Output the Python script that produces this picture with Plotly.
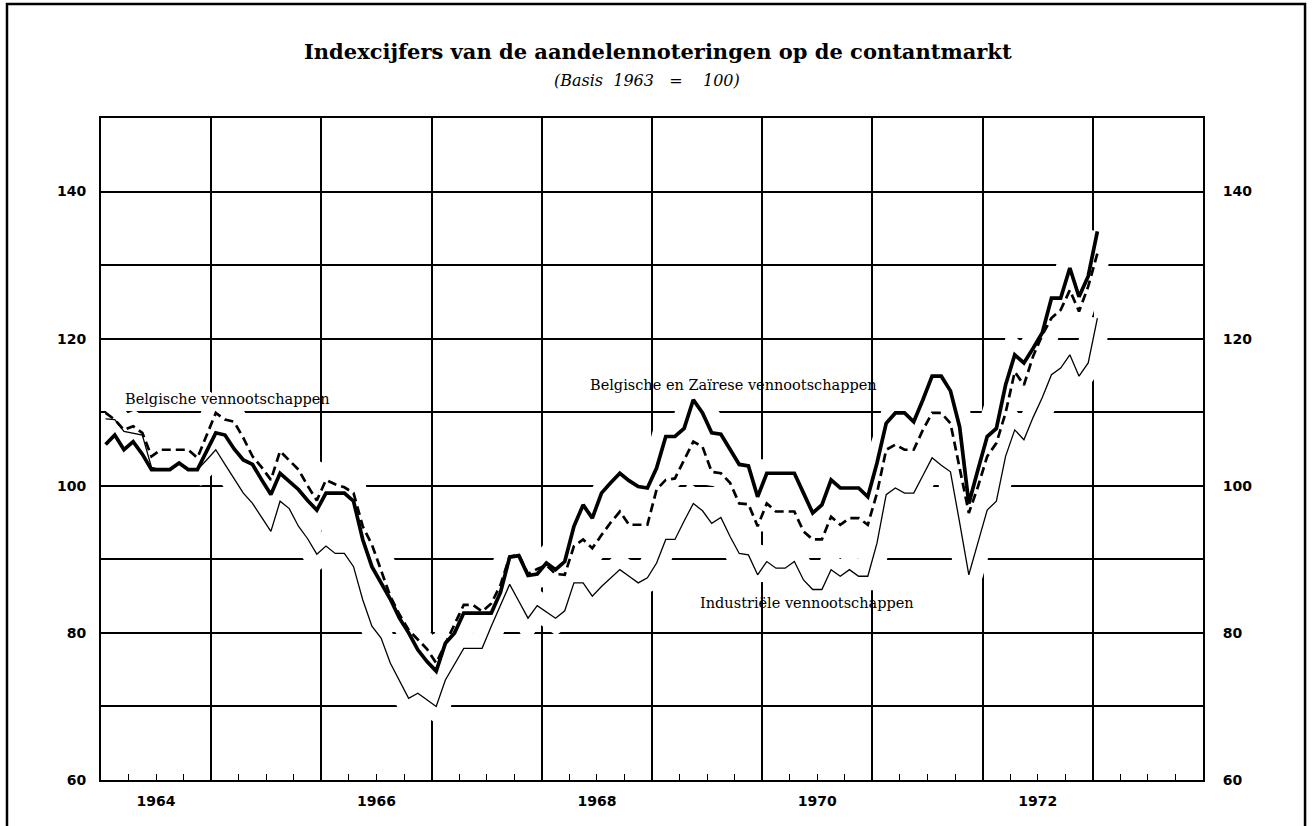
import plotly.graph_objects as go

# Monthly stock price indices on the spot market, January 1964 - January 1973 (1963 = 100)
start_year = 1964

belg_zaire = [
    105.6, 106.9, 104.9, 106.0, 104.3, 102.2, 102.2, 102.2, 103.1, 102.2, 102.2, 104.6,
    107.2, 106.9, 105.0, 103.5, 102.9, 100.8, 98.8, 101.7, 100.6, 99.5, 98.0, 96.7,
    99.0, 99.0, 99.0, 97.9, 92.7, 89.0, 86.8, 84.6, 82.0, 80.0, 77.7, 76.1,
    74.8, 78.6, 80.0, 82.7, 82.7, 82.7, 82.7, 85.5, 90.3, 90.5, 87.8, 88.0,
    89.5, 88.6, 89.7, 94.5, 97.4, 95.6, 99.0, 100.4, 101.7, 100.7, 99.9, 99.7,
    102.4, 106.7, 106.7, 107.8, 111.7, 109.9, 107.2, 107.0, 105.0, 102.9, 102.7, 98.5,
    101.7, 101.7, 101.7, 101.7, 99.0, 96.3, 97.4, 100.8, 99.7, 99.7, 99.7, 98.5,
    103.1, 108.5, 109.9, 109.9, 108.7, 111.7, 114.9, 114.9, 112.9, 108.0, 97.6, 102.2,
    106.7, 107.8, 113.7, 117.8, 116.7, 118.7, 120.8, 125.5, 125.5, 129.6, 125.7, 128.5,
    134.6,
]

belg = [
    109.9, 109.0, 107.6, 108.1, 107.2, 104.0, 104.9, 104.9, 104.9, 104.9, 103.8, 106.8,
    109.9, 109.0, 108.7, 106.5, 104.0, 102.5, 100.8, 104.7, 103.5, 102.2, 100.0, 98.0,
    100.8, 100.2, 99.8, 99.0, 94.5, 92.0, 88.5, 85.0, 82.5, 80.4, 79.1, 77.8,
    75.9, 78.6, 81.2, 83.8, 83.8, 82.9, 84.0, 86.5, 90.4, 90.6, 88.0, 88.7,
    89.2, 88.0, 87.9, 91.8, 92.7, 91.5, 93.3, 95.0, 96.5, 94.7, 94.7, 94.7,
    99.5, 100.8, 101.0, 103.5, 106.0, 105.3, 101.9, 101.7, 100.4, 97.6, 97.5, 94.5,
    97.6, 96.5, 96.5, 96.5, 93.8, 92.7, 92.7, 95.8, 94.7, 95.6, 95.6, 94.7,
    99.0, 104.9, 105.6, 104.9, 104.9, 107.6, 109.9, 109.9, 108.5, 102.2, 96.3, 99.9,
    104.0, 105.8, 109.9, 115.5, 113.7, 117.6, 120.5, 122.8, 123.9, 126.6, 123.7, 127.1,
    131.6,
]

industrie = [
    109.1, 109.0, 107.4, 107.1, 106.9, 102.5, 102.2, 102.2, 103.1, 102.2, 102.2, 103.5,
    104.9, 102.9, 101.0, 99.0, 97.6, 95.7, 93.8, 97.9, 96.9, 94.5, 92.8, 90.7,
    91.8, 90.8, 90.8, 89.0, 84.5, 80.9, 79.3, 75.9, 73.5, 71.1, 71.8, 70.9,
    70.0, 73.6, 75.8, 77.9, 77.9, 77.9, 80.9, 83.7, 86.6, 84.3, 82.0, 83.7,
    82.8, 82.0, 83.0, 86.8, 86.8, 85.0, 86.3, 87.5, 88.6, 87.7, 86.8, 87.5,
    89.5, 92.7, 92.7, 95.2, 97.6, 96.6, 94.9, 95.7, 93.1, 90.8, 90.6, 87.9,
    89.7, 88.8, 88.8, 89.7, 87.2, 85.9, 85.9, 88.6, 87.7, 88.6, 87.7, 87.7,
    92.2, 98.8, 99.7, 99.0, 99.0, 101.4, 103.8, 102.8, 101.9, 95.0, 87.9, 92.3,
    96.7, 97.9, 104.0, 107.6, 106.25, 109.3, 112.0, 115.1, 116.0, 117.8, 114.9, 116.7,
    122.8,
]

year_labels = ["1964", "1966", "1968", "1970", "1972"]
y_ticks = [60, 80, 100, 120, 140]

# each monthly value sits at the middle of its month on a fractional-year axis
months = [start_year + (i + 0.5) / 12 for i in range(len(belg))]

INK = "black"
LABEL_FONT = dict(family="DejaVu Serif", size=14.5, color=INK)
TICK_FONT = dict(family="DejaVu Sans", size=14, color=INK, weight="bold")

fig = go.Figure()

series = [
    (belg_zaire, dict(color=INK, width=3.7)),
    (belg, dict(color=INK, width=2.7, dash="9px,5px")),
    (industrie, dict(color=INK, width=1.3)),
]

# white bands beneath the curves interrupt the grid where the lines pass
for values, _ in series:
    fig.add_trace(go.Scatter(x=months, y=values, mode="lines",
                             line=dict(color="white", width=28),
                             hoverinfo="skip", showlegend=False))
for values, style in series:
    fig.add_trace(go.Scatter(x=months, y=values, mode="lines", line=style,
                             showlegend=False))

fig.update_layout(
    width=1312, height=826,
    margin=dict(l=101, r=109, t=118, b=46),
    paper_bgcolor="white", plot_bgcolor="white",
    xaxis=dict(
        range=[1964, 1974], tickmode="linear", tick0=1964, dtick=1,
        showgrid=True, gridcolor=INK, gridwidth=1.5,
        showticklabels=False, ticks="", zeroline=False,
        showline=True, linecolor=INK, linewidth=1.7, mirror=True,
        minor=dict(dtick=0.25, tick0=1964, ticks="inside", ticklen=6,
                   tickcolor=INK, tickwidth=1.4, showgrid=False),
    ),
    xaxis2=dict(
        overlaying="x", anchor="y", side="bottom", range=[1964, 1974],
        tickmode="array", tickvals=[int(v) + 0.5 for v in year_labels],
        ticktext=year_labels, ticks="outside", ticklen=8,
        tickcolor="rgba(0,0,0,0)", showgrid=False, showline=False,
        zeroline=False, tickfont=TICK_FONT,
    ),
    yaxis=dict(
        range=[60, 150], tickmode="array", tickvals=y_ticks,
        showgrid=True, gridcolor=INK, gridwidth=1.5, zeroline=False,
        ticks="outside", ticklen=10, tickcolor="rgba(0,0,0,0)",
        tickfont=TICK_FONT,
        showline=True, linecolor=INK, linewidth=1.7, mirror=True,
        minor=dict(dtick=10, tick0=60, showgrid=True, gridcolor=INK,
                   gridwidth=1.5, ticks=""),
    ),
    yaxis2=dict(
        overlaying="y", side="right", anchor="x", range=[60, 150],
        tickmode="array", tickvals=y_ticks, ticks="outside", ticklen=16,
        tickcolor="rgba(0,0,0,0)", showgrid=False, showline=False,
        zeroline=False, tickfont=TICK_FONT,
    ),
)

# invisible carrier so the secondary axes are laid out
fig.add_trace(go.Scatter(x=[1964, 1974], y=[60, 60], xaxis="x2", yaxis="y2",
                         mode="lines", line=dict(color="rgba(0,0,0,0)"),
                         hoverinfo="skip", showlegend=False))

# series labels
fig.add_annotation(x=1965.15, y=111.8, text="Belgische vennootschappen",
                   showarrow=False, font=LABEL_FONT)
fig.add_annotation(x=1969.74, y=113.7, text="Belgische en Zaïrese vennootschappen",
                   showarrow=False, font=LABEL_FONT)
fig.add_annotation(x=1970.41, y=84.0, text="Industriële vennootschappen",
                   showarrow=False, font=LABEL_FONT)

# title block
fig.add_annotation(xref="paper", yref="paper", x=0.5054, y=1.0997,
                   xanchor="center", yanchor="middle",
                   text="Indexcijfers van de aandelennoteringen op de contantmarkt",
                   showarrow=False,
                   font=dict(family="DejaVu Serif", size=21, color=INK, weight="bold"))
fig.add_annotation(xref="paper", yref="paper", x=0.4954, y=1.0559,
                   xanchor="center", yanchor="middle",
                   text="(Basis\u00a0\u00a01963\u00a0\u00a0\u00a0=\u00a0\u00a0\u00a0\u00a0100)",
                   showarrow=False,
                   font=dict(family="DejaVu Serif", size=16, color=INK, style="italic"))

# outer border of the sheet
fig.add_shape(type="rect", xref="paper", yref="paper",
              x0=-0.0853, x1=1.0926, y0=-0.0755, y1=1.1722,
              line=dict(color=INK, width=2.5), fillcolor="rgba(0,0,0,0)")

fig.write_html("out.html")
